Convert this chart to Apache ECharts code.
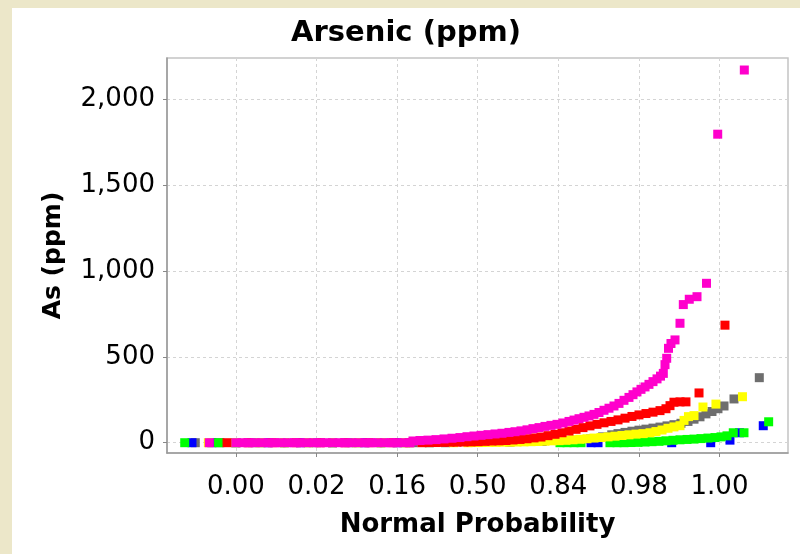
<!DOCTYPE html>
<html><head><meta charset="utf-8">
<script src="https://cdn.jsdelivr.net/npm/echarts@6/dist/echarts.min.js"></script>
<style>
html,body{margin:0;padding:0;background:#ECE7C9;width:800px;height:554px;overflow:hidden;}
#chart{position:absolute;left:12px;top:8px;width:788px;height:546px;background:#fff;}
</style></head><body><div id="chart"></div>
<script>
// x positions are normal scores (z); tick labels show cumulative probability
const xTickValues = [-3, -2, -1, 0, 1, 2, 3];
const xTickLabels = ['0.00', '0.02', '0.16', '0.50', '0.84', '0.98', '1.00'];
const yTickValues = [0, 500, 1000, 1500, 2000];

const grayPts = [[-3.504,0],[-3.2,0],[-2.8,0],[-2.4,0],[-2.0,0],[-1.6,0],[-1.2,0],[-0.8,0],[-0.4,0],[0.4,3],[0.8,7],[1.2,14],[1.4,22],[1.55,34],
[1.663,46],[1.741,53],[1.828,60],[1.914,67],[2.001,73],[2.088,79],[2.175,85],[2.262,91],[2.349,98],[2.435,105],[2.522,113],[2.609,124],[2.684,137],[2.758,151],[2.832,168],[2.907,182],[2.981,198],[3.056,214],[3.180,255],[3.494,379]];

const bluePts = [[-3.545,0],[-3.3,0],[-3.0,0],[-2.6,0],[-2.2,0],[-1.8,0],[-1.4,0],[-1.0,0],[-0.6,0],[1.406,0],[1.493,0],[2.407,0],[2.891,0],[3.130,15],[3.248,58],[3.543,99]];

const greenPts = [[-3.635,0],[-3.216,0],[-3.0,0],[-2.7,0],[-2.4,0],[-2.1,0],[-1.8,0],[-1.5,0],[-1.2,0],[-0.9,0],[1.021,0],[1.108,0],[1.195,0],[1.282,0],[1.641,0],[1.728,0],[1.815,0],[1.902,1],[1.989,2],[2.076,4],[2.163,6],[2.249,8],[2.336,11],[2.423,14],[2.510,17],[2.597,19],[2.684,21],[2.770,24],[2.857,27],[2.944,30],[3.019,34],[3.093,40],[3.171,58],[3.304,58],[3.610,122]];

const yellowPts = [[-3.342,0],[-3.0,0],[-2.7,0],[-2.4,0],[-2.1,0],[-1.8,0],[-1.5,0],[-1.2,0],[-0.9,0],[-0.6,0],[-0.3,0],
[-0.120,0],[-0.033,1],[0.053,1],[0.140,2],[0.227,2],[0.314,3],[0.401,3],[0.488,4],[0.574,5],[0.661,6],[0.748,7],[0.835,9],[0.922,11],[1.009,12],[1.095,14],[1.182,17],[1.269,20],[1.356,23],[1.443,27],[1.530,30],[1.617,34],[1.704,38],[1.790,42],[1.877,46],[1.964,50],[2.051,53],[2.138,58],[2.212,65],[2.287,74],[2.361,84],[2.435,92],[2.510,99],[2.560,130],[2.615,152],[2.684,158],[2.795,208],[2.956,225],[3.285,268]];

const redPts = [[-3.110,0],[-2.85,0],[-2.55,0],[-2.25,0],[-1.95,0],[-1.65,0],[-1.35,0],[-1.05,0],[-0.85,0],
[-0.691,0],[-0.604,1],[-0.517,1],[-0.431,2],[-0.344,3],[-0.257,3],[-0.170,4],[-0.083,5],[0.004,6],[0.091,8],[0.177,10],[0.264,11],[0.351,13],[0.438,16],[0.525,19],[0.612,23],[0.699,28],[0.785,33],[0.872,41],[0.959,49],[1.046,58],[1.133,68],[1.220,78],[1.306,88],[1.393,98],[1.480,107],[1.567,116],[1.654,124],[1.741,133],[1.828,143],[1.914,153],[2.001,162],[2.088,170],[2.175,178],[2.262,187],[2.336,198],[2.386,216],[2.435,236],[2.510,238],[2.584,238],[2.746,290],[3.068,685]];

const magentaPts = [[-3.33,0],[-3.0,0],[-2.92,0],[-2.84,0],[-2.76,0],[-2.68,0],[-2.6,0],[-2.52,0],[-2.44,0],[-2.36,0],[-2.28,0],[-2.2,0],[-2.12,0],[-2.04,0],[-1.96,0],[-1.88,0],[-1.8,0],[-1.72,0],[-1.64,0],[-1.56,0],[-1.48,0],[-1.4,0],[-1.32,0],[-1.24,0],[-1.16,0],[-1.08,0],[-1.0,0],[-0.92,0],[-0.84,0],
[-0.803,10],[-0.716,13],[-0.617,15],[-0.517,18],[-0.418,22],[-0.319,26],[-0.220,30],[-0.133,35],[-0.046,39],[0.041,43],[0.128,47],[0.215,51],[0.301,55],[0.388,60],[0.463,64],[0.537,69],[0.612,75],[0.686,82],[0.761,88],[0.835,95],[0.909,101],[0.984,107],[1.058,115],[1.133,124],[1.195,132],[1.257,140],[1.319,148],[1.381,156],[1.443,165],[1.505,176],[1.567,189],[1.629,201],[1.691,214],[1.753,229],[1.815,247],[1.877,264],[1.927,280],[1.976,296],[2.026,311],[2.076,325],[2.125,340],[2.175,356],[2.225,372],[2.268,388],[2.303,404],[2.324,455],[2.345,492],[2.367,550],[2.398,578],[2.448,599],[2.510,696],[2.551,805],[2.625,836],[2.721,851],[2.839,929],[2.978,1798],[3.308,2172]];

const seriesList = [
  {name: 'Gray', color: '#6E6E6E', data: grayPts},
  {name: 'Blue', color: '#0000FF', data: bluePts},
  {name: 'Green', color: '#00FF00', data: greenPts},
  {name: 'Yellow', color: '#FFFF00', data: yellowPts},
  {name: 'Red', color: '#FF0000', data: redPts},
  {name: 'Magenta', color: '#FF00CC', data: magentaPts}
];

const FONT = 'DejaVu Sans';
const chart = echarts.init(document.getElementById('chart'), null, {renderer: 'canvas'});
chart.setOption({
  backgroundColor: '#ffffff',
  animation: false,
  title: {
    text: 'Arsenic (ppm)', left: 'center', top: 6,
    textStyle: {fontFamily: FONT, fontWeight: 'bold', fontSize: 29, color: '#000'}
  },
  grid: {left: 155, right: 12, top: 50, bottom: 101, show: true, borderColor: '#c4c4c4', borderWidth: 1.5, backgroundColor: '#fff'},
  xAxis: {
    type: 'value', min: -3.855, max: 3.85,
    name: 'Normal Probability', nameLocation: 'middle', nameGap: 59,
    nameTextStyle: {fontFamily: FONT, fontWeight: 'bold', fontSize: 26, color: '#000'},
    axisLine: {onZero: false, lineStyle: {color: '#999', width: 1.5}},
    axisTick: {show: true, length: 4, customValues: xTickValues, lineStyle: {color: '#888'}},
    axisLabel: {customValues: xTickValues, margin: 21, fontFamily: FONT, fontSize: 26, color: '#000',
      formatter: v => xTickLabels[xTickValues.indexOf(Math.round(v))] || ''},
    splitLine: {show: true, lineStyle: {color: '#d4d4d4', type: [3, 3], width: 1}}
  },
  yAxis: {
    type: 'value', min: -60, max: 2242,
    name: 'As (ppm)', nameLocation: 'middle', nameGap: 101, nameRotate: 90,
    nameTextStyle: {fontFamily: FONT, fontWeight: 'bold', fontSize: 25, color: '#000'},
    axisLine: {show: true, onZero: false, lineStyle: {color: '#999', width: 1.5}},
    axisTick: {show: true, length: 4, customValues: yTickValues, lineStyle: {color: '#888'}},
    axisLabel: {customValues: yTickValues, margin: 12, fontFamily: FONT, fontSize: 26, color: '#000',
      formatter: v => Math.round(v).toLocaleString('en-US')},
    splitLine: {show: true, lineStyle: {color: '#d4d4d4', type: [3, 3], width: 1}}
  },
  series: seriesList.map(s => ({
    name: s.name, type: 'scatter', symbol: 'rect', symbolSize: 9,
    itemStyle: {color: s.color, opacity: 1}, data: s.data, silent: true
  }))
});
</script></body></html>
